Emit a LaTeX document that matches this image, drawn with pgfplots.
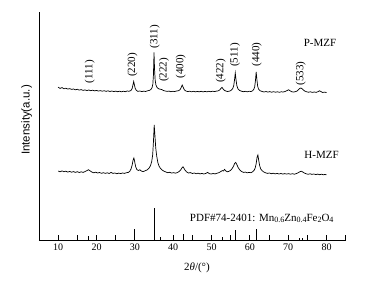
\documentclass[border=0pt]{standalone}
\usepackage{pgfplots}
\pgfplotsset{compat=1.18}
\usepackage{fontspec}
\setmainfont{Liberation Serif}
\newfontfamily\labelsans{Liberation Sans}
\newcommand\sub[1]{\raisebox{-0.35ex}{\fontsize{8}{9}\selectfont #1}}
\begin{document}
\begin{tikzpicture}
\begin{axis}[name=ax, scale only axis, width=306.7pt, height=228pt,
  xmin=5, xmax=85, ymin=0, ymax=228,
  axis lines=left, axis line style={-, line width=0.9pt},
  xtick={10,20,...,80}, minor xtick={15,25,...,85},
  ytick=\empty, tick align=inside,
  major tick length=5pt, minor tick length=5pt,
  every tick/.style={black, line width=0.8pt},
  ticklabel style={font=\fontsize{10}{12}\selectfont},
  /pgf/number format/assume math mode=true,
  clip=false]
\addplot[black, line width=0.7pt, mark=none] coordinates {
(10,152.8)(10.5,151.6)(11,152.4)(11.5,151.2)(12,151.8)(12.5,150.9)(13,151.4)(13.5,150.6)(14,151.0)(14.5,150.2)
(15,150.7)(15.5,149.9)(16,150.4)(16.5,149.6)(17,150.1)(17.5,149.4)(18,150.0)(18.5,149.3)(19,149.8)(19.5,149.1)
(20,149.6)(20.5,148.9)(21,149.4)(21.5,148.8)(22,149.3)(22.5,148.6)(23,149.2)(23.5,148.5)(24,149.0)(24.5,148.4)
(25,148.9)(25.5,148.3)(26,148.8)(26.5,148.2)(27,148.8)(27.5,148.3)(28,149.0)(28.5,148.7)(29,149.6)(29.3,151.5)
(29.5,155)(29.7,158.5)(29.9,155)(30.1,151.5)(30.4,149.6)(30.8,148.6)(31.3,149.0)(31.8,148.4)(32.3,148.9)(32.8,148.5)
(33.3,149.2)(33.8,149.6)(34.2,150.6)(34.5,152.5)(34.7,156)(34.85,165)(35.0,187.5)(35.15,170)(35.3,160)(35.5,155)
(35.8,152.5)(36.2,151.2)(36.6,150.8)(37.0,150.5)(37.4,149.6)(37.9,149.0)(38.4,148.6)(38.9,148.9)(39.4,148.3)(39.9,148.7)
(40.4,148.5)(40.9,149.0)(41.4,149.3)(41.8,150.4)(42.1,152.5)(42.35,155)(42.6,152.8)(42.9,150.3)(43.3,149.0)(43.8,148.4)
(44.3,148.8)(44.8,148.2)(45.3,148.7)(45.8,148.1)(46.3,148.6)(46.8,148.2)(47.3,148.7)(47.8,148.1)(48.3,148.6)(48.8,148.2)
(49.3,148.7)(49.8,148.3)(50.3,148.8)(50.8,148.4)(51.3,148.9)(51.8,149.2)(52.2,150.3)(52.5,151.8)(52.75,152.6)(53.0,151.2)
(53.3,149.8)(53.7,149.0)(54.2,148.5)(54.7,148.9)(55.1,149.6)(55.5,151.2)(55.8,154.5)(56.0,160)(56.2,167)(56.4,160)
(56.6,154.5)(56.9,151.2)(57.3,149.6)(57.8,148.8)(58.3,148.3)(58.8,148.7)(59.3,148.2)(59.8,148.7)(60.3,148.5)(60.7,149.2)
(61.0,150.5)(61.25,153)(61.45,159)(61.65,168)(61.85,160)(62.05,153.5)(62.3,150.6)(62.7,149.2)(63.2,148.5)(63.7,148.0)
(64.2,148.5)(64.7,147.9)(65.2,148.4)(65.7,147.8)(66.2,148.3)(66.7,147.8)(67.2,148.2)(67.7,147.7)(68.2,148.2)(68.7,148.0)
(69.2,148.5)(69.7,149.4)(70.1,150.2)(70.5,149.2)(70.9,148.3)(71.4,147.9)(71.9,148.4)(72.3,148.9)(72.7,150.3)(73.0,151.5)
(73.3,152.0)(73.6,151.3)(73.9,150.2)(74.3,149.0)(74.8,148.2)(75.3,147.8)(75.8,148.2)(76.3,147.6)(76.8,148.0)(77.3,147.6)
(77.8,148.4)(78.2,149.2)(78.6,148.3)(79.0,147.5)(79.5,147.9)(80.0,147.4)
};
\addplot[black, line width=0.7pt, mark=none] coordinates {
(10,69.0)(10.5,68.2)(11,69.1)(11.5,68.3)(12,68.8)(12.5,67.9)(13,68.6)(13.5,67.8)(14,68.4)(14.5,67.6)
(15,68.3)(15.5,67.5)(16,68.2)(16.5,67.6)(17,68.4)(17.5,69.4)(17.9,70.3)(18.3,69.2)(18.8,67.9)(19.3,67.2)
(19.8,67.8)(20.3,67.0)(20.8,67.5)(21.3,66.7)(21.8,67.3)(22.3,66.6)(22.8,67.2)(23.3,66.5)(23.8,67.6)(24.3,66.6)
(24.8,67.0)(25.3,66.3)(25.8,66.9)(26.3,66.4)(26.8,67.0)(27.3,66.6)(27.8,67.3)(28.3,67.6)(28.7,68.8)(29.0,71)
(29.3,75)(29.55,80)(29.75,82)(29.95,78.5)(30.2,73.5)(30.5,70.5)(30.9,69.5)(31.3,70.2)(31.7,69.0)(32.1,68.4)
(32.5,68.9)(32.9,69.6)(33.3,70.3)(33.7,71.8)(34.1,74.5)(34.4,78.5)(34.65,85)(34.85,98)(35.05,115)(35.25,104)
(35.45,92)(35.7,84)(36.0,77.5)(36.3,74)(36.7,71.5)(37.1,70.0)(37.6,68.8)(38.1,68.0)(38.6,67.3)(39.1,67.7)
(39.6,66.9)(40.1,67.4)(40.6,66.8)(41.1,67.5)(41.6,68.6)(42.0,70.3)(42.3,72.2)(42.55,73.2)(42.8,71.8)(43.1,69.8)
(43.5,68.1)(44.0,67.0)(44.5,67.4)(45.0,66.5)(45.5,67.0)(46.0,66.3)(46.5,66.8)(47.0,66.1)(47.5,66.6)(48.0,66.0)
(48.5,66.6)(49.0,67.6)(49.4,66.4)(49.9,66.0)(50.4,66.5)(50.9,66.1)(51.4,66.7)(51.9,67.3)(52.4,68.4)(52.8,69.4)
(53.1,69.0)(53.4,70.6)(53.7,69.2)(54.1,68.2)(54.5,68.6)(54.9,69.5)(55.3,71.0)(55.7,73.5)(56.0,76.3)(56.3,77.6)
(56.6,75.6)(56.9,72.8)(57.3,70.4)(57.8,68.6)(58.3,67.6)(58.8,67.9)(59.3,67.2)(59.8,67.6)(60.3,67.3)(60.7,68.2)
(61.1,69.6)(61.4,72.0)(61.65,76.5)(61.9,83)(62.1,85)(62.3,80)(62.55,74.5)(62.85,71.0)(63.2,69.3)(63.6,68.1)
(64.1,67.2)(64.6,66.6)(65.1,67.0)(65.6,66.3)(66.1,66.8)(66.6,66.1)(67.1,66.6)(67.6,66.0)(68.1,66.5)(68.6,65.9)
(69.1,66.4)(69.6,65.9)(70.1,66.4)(70.6,65.8)(71.1,66.3)(71.6,65.8)(72.1,66.4)(72.6,67.2)(73.0,68.2)(73.4,68.8)
(73.8,68.0)(74.2,67.0)(74.7,66.2)(75.2,65.7)(75.7,66.2)(76.2,65.6)(76.7,66.0)(77.2,65.4)(77.7,65.9)(78.2,65.3)
(78.7,65.8)(79.2,65.2)(79.6,65.6)(80.0,65.1)
};
\addplot[ycomb, black, line width=0.9pt, mark=none] coordinates {
(18.0,4)(29.8,10.7)(35.1,31.7)(36.7,2.7)(42.6,5.7)(52.8,3.5)(56.3,10)(61.8,11)(73.0,2)(73.6,2)
};
\begin{scope}[every node/.style={font=\fontsize{11}{13}\selectfont}]
\node at (axis cs:78.3,197) {P-MZF};
\node at (axis cs:78.7,85) {H-MZF};
\node at (axis cs:63.1,21.5) {PDF\#74-2401: Mn\sub{0.6}Zn\sub{0.4}Fe\sub{2}O\sub{4}};
\node[rotate=90] at (axis cs:18.2,168.3) {(111)};
\node[rotate=90] at (axis cs:29.4,175) {(220)};
\node[rotate=90] at (axis cs:35.2,203.3) {(311)};
\node[rotate=90] at (axis cs:37.6,170) {(222)};
\node[rotate=90] at (axis cs:42.0,173.3) {(400)};
\node[rotate=90] at (axis cs:52.4,169) {(422)};
\node[rotate=90] at (axis cs:56.1,185) {(511)};
\node[rotate=90] at (axis cs:61.8,185.5) {(440)};
\node[rotate=90] at (axis cs:73.3,166.5) {(533)};
\node at (axis cs:46.2,-28) {2{\itshape θ}/(°)};
\end{scope}
\node[rotate=90, font=\labelsans\fontsize{11.5}{13}\selectfont] at (axis cs:1.75,120) {Intensity(a.u.)};
\end{axis}
\pgfresetboundingbox
\path ([xshift=-39pt,yshift=-41pt]ax.south west) rectangle ++(385pt,281pt);
\end{tikzpicture}
\end{document}
